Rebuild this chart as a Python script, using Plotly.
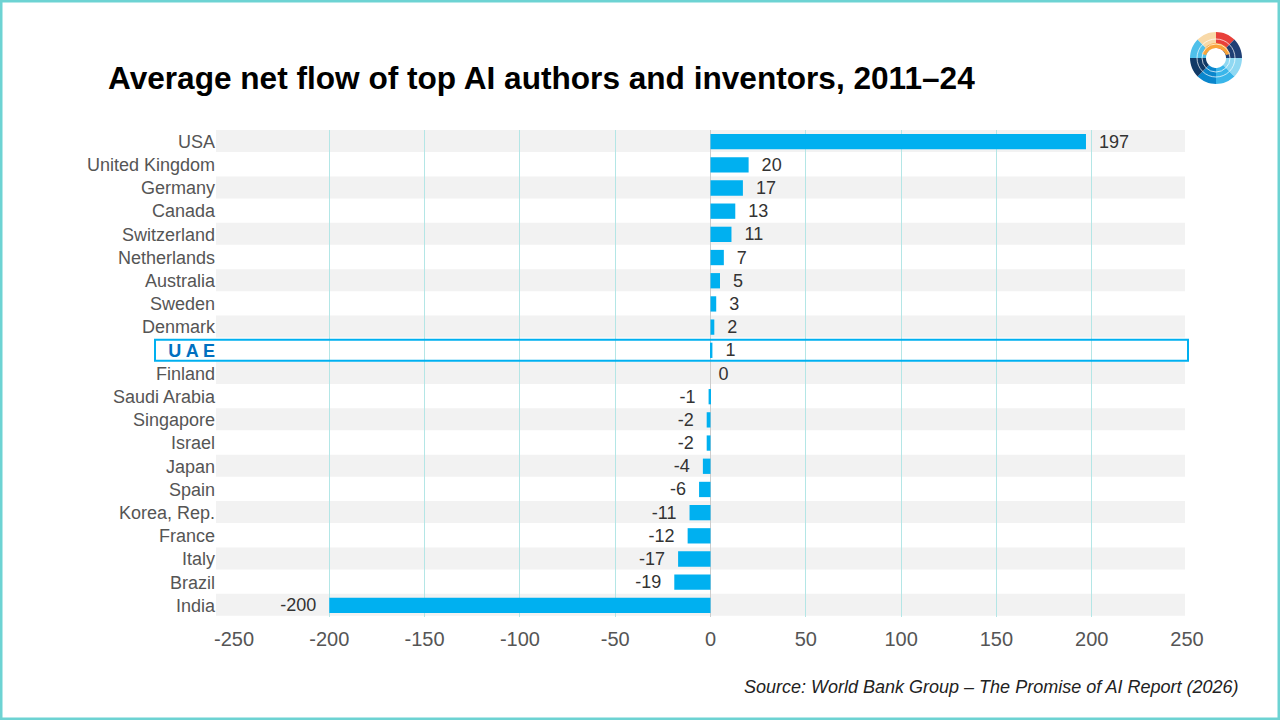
import math
import plotly.graph_objects as go

countries = ["USA", "United Kingdom", "Germany", "Canada", "Switzerland", "Netherlands",
             "Australia", "Sweden", "Denmark", "UAE", "Finland", "Saudi Arabia", "Singapore",
             "Israel", "Japan", "Spain", "Korea, Rep.", "France", "Italy", "Brazil", "India"]
net_flow = [197, 20, 17, 13, 11, 7, 5, 3, 2, 1, 0, -1, -2, -2, -4, -6, -11, -12, -17, -19, -200]
x_ticks = [-250, -200, -150, -100, -50, 0, 50, 100, 150, 200, 250]
x_tick_labels = ["-250", "-200", "-150", "-100", "-50", "0", "50", "100", "150", "200", "250"]
highlight = "UAE"

BLUE = "#00b0f0"
FONT = "Liberation Sans, Arial, sans-serif"

# plot area in pixels
L, R, T, B = 234, 1187, 130, 617
PW, PH = R - L, B - T


def px_x(x):
    return (x - L) / PW


def px_y(y):
    return (B - y) / PH


ypos = list(range(len(countries)))
ticktext = []
for c in countries:
    if c == highlight:
        ticktext.append("<b><span style='color:#0070c0'>U A E</span></b>")
    else:
        ticktext.append(c)

# keep a little gap between bar end and its value label
labels = []
for v in net_flow:
    if v < 0:
        labels.append(f"{v}&nbsp;&nbsp;")
    elif v == 0:
        labels.append(f"&nbsp;{v}")
    else:
        labels.append(f"&nbsp;&nbsp;{v}")

fig = go.Figure()
fig.add_trace(go.Bar(
    x=net_flow, y=ypos, orientation="h", width=0.66,
    marker=dict(color=BLUE, line=dict(width=0)),
    text=labels, textposition="outside", constraintext="none",
    textfont=dict(family=FONT, size=18, color="#333333"),
    cliponaxis=False, showlegend=False, hoverinfo="x+y",
))

shapes = []
# alternating grey row bands
for i in ypos:
    if i % 2 == 0:
        shapes.append(dict(type="rect", xref="paper", yref="y", x0=px_x(216), x1=px_x(1185),
                           y0=i - 0.5, y1=i + 0.45, fillcolor="#f2f2f2",
                           line=dict(width=0), layer="below"))
# highlight box
hi = countries.index(highlight)
shapes.append(dict(type="rect", xref="paper", yref="y", x0=px_x(155), x1=px_x(1188),
                   y0=hi - 0.45, y1=hi + 0.45, fillcolor="rgba(0,0,0,0)",
                   line=dict(color=BLUE, width=2), layer="above"))
# outer frame
shapes.append(dict(type="rect", xref="paper", yref="paper",
                   x0=px_x(1), x1=px_x(1279), y0=px_y(719), y1=px_y(1),
                   line=dict(color="#6dd3d3", width=3), fillcolor="rgba(0,0,0,0)"))

# logo: ring of coloured sectors drawn as pixel-sized paths
logo_colors = ["#e8403a", "#1f3f75", "#8fd8f2", "#3ab6ea",
               "#0a86cc", "#123a66", "#4fc0ea", "#f8d9a8"]
cx, cy = px_x(1216), px_y(58)
r_out, r_in = 26, 10
n = len(logo_colors)
for k, col in enumerate(logo_colors):
    a0 = math.pi / 2 - 2 * math.pi * k / n
    a1 = a0 - 2 * math.pi / n
    steps = 8
    pts = []
    for s in range(steps + 1):
        a = a0 + (a1 - a0) * s / steps
        pts.append((r_out * math.cos(a), r_out * math.sin(a)))
    for s in range(steps + 1):
        a = a1 + (a0 - a1) * s / steps
        pts.append((r_in * math.cos(a), r_in * math.sin(a)))
    path = "M " + " L ".join(f"{x:.2f},{y:.2f}" for x, y in pts) + " Z"
    shapes.append(dict(type="path", path=path, xref="paper", yref="paper",
                       xsizemode="pixel", ysizemode="pixel", xanchor=cx, yanchor=cy,
                       fillcolor=col, line=dict(width=0)))
# warm inner arc at the top of the ring
shapes.append(dict(type="path", xref="paper", yref="paper",
                   xsizemode="pixel", ysizemode="pixel", xanchor=cx, yanchor=cy,
                   path="M -14,4 Q -10,15 0,15 Q 10,15 14,4 L 10,3 Q 7,10 0,10 Q -7,10 -10,3 Z",
                   fillcolor="#f9a43a", line=dict(width=0)))
for rr in (14, 19):
    shapes.append(dict(type="circle", xref="paper", yref="paper",
                       xsizemode="pixel", ysizemode="pixel", xanchor=cx, yanchor=cy,
                       x0=-rr, x1=rr, y0=-rr, y1=rr, fillcolor="rgba(0,0,0,0)",
                       line=dict(color="rgba(255,255,255,0.7)", width=1)))

fig.update_layout(
    width=1280, height=720,
    margin=dict(l=L, r=1280 - R, t=T, b=720 - B),
    paper_bgcolor="white", plot_bgcolor="rgba(0,0,0,0)",
    shapes=shapes, bargap=0.3,
    title=dict(text="<b>Average net flow of top AI authors and inventors, 2011–24</b>",
               x=108 / 1280, xanchor="left", y=1 - 78 / 720, yanchor="middle",
               font=dict(family=FONT, size=31.6, color="#000000")),
    xaxis=dict(range=[-250, 250], tickvals=x_ticks, ticktext=x_tick_labels,
               showgrid=True, gridcolor="#b4e6e6", gridwidth=1,
               zeroline=True, zerolinecolor="#cccccc", zerolinewidth=1,
               tickfont=dict(family=FONT, size=20, color="#555555"), ticks="",
               ticklabelstandoff=8, showline=False),
    yaxis=dict(tickvals=ypos, ticktext=ticktext, autorange=False, range=[20.5, -0.5],
               tickfont=dict(family=FONT, size=18, color="#555555"), showgrid=False,
               zeroline=False, ticks="", ticklabelstandoff=18),
    annotations=[dict(text="<i>Source: World Bank Group – The Promise of AI Report (2026)</i>",
                      xref="paper", yref="paper", x=px_x(1241), xanchor="right",
                      y=px_y(687), yanchor="middle", showarrow=False,
                      font=dict(family=FONT, size=18, color="#222222"))],
)

fig.write_html("out.html", config={"displayModeBar": False},
               post_script="document.body.style.margin='0';")
